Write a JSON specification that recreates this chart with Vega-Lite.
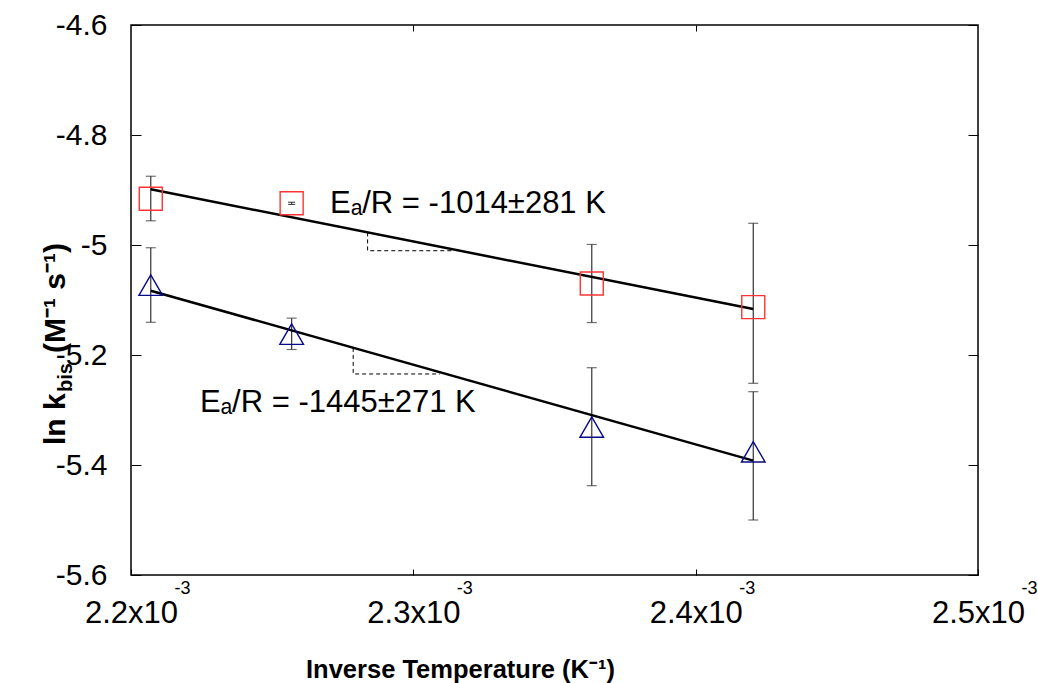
{
  "$schema": "https://vega.github.io/schema/vega-lite/v6.json",
  "width": 847,
  "height": 550,
  "autosize": {"type": "none"},
  "padding": {"left": 131, "top": 25, "right": 60, "bottom": 108},
  "background": "white",
  "config": {
    "view": {"stroke": "black", "strokeWidth": 1.5},
    "axis": {"domain": false, "grid": false, "labelColor": "black", "tickColor": "black", "tickWidth": 1, "labelFont": "Liberation Sans", "labelFlush": false, "labelOverlap": false}
  },
  "datasets": {
    "pts": [
      {"series": "square", "x": 0.002207, "y": -4.916, "lo": -4.956, "hi": -4.875},
      {"series": "square", "x": 0.0023632, "y": -5.07, "lo": -5.141, "hi": -4.999},
      {"series": "square", "x": 0.0024204, "y": -5.113, "lo": -5.2515, "hi": -4.9605},
      {"series": "triangle", "x": 0.002207, "y": -5.073, "lo": -5.1405, "hi": -5.005},
      {"series": "triangle", "x": 0.0022569, "y": -5.162, "lo": -5.19, "hi": -5.133},
      {"series": "triangle", "x": 0.0023632, "y": -5.331, "lo": -5.4376, "hi": -5.2231},
      {"series": "triangle", "x": 0.0024204, "y": -5.376, "lo": -5.5, "hi": -5.2667}
    ],
    "fit": [
      {"series": "square", "x": 0.002207, "y": -4.8987},
      {"series": "square", "x": 0.0024204, "y": -5.1164},
      {"series": "triangle", "x": 0.002207, "y": -5.0831},
      {"series": "triangle", "x": 0.0024204, "y": -5.3921}
    ],
    "slope": [
      {"grp": "a", "ord": 1, "x": 0.0022838, "y": -4.9771},
      {"grp": "a", "ord": 2, "x": 0.0022838, "y": -5.0104},
      {"grp": "a", "ord": 3, "x": 0.0023142, "y": -5.0104},
      {"grp": "b", "ord": 1, "x": 0.0022787, "y": -5.1871},
      {"grp": "b", "ord": 2, "x": 0.0022787, "y": -5.2345},
      {"grp": "b", "ord": 3, "x": 0.0023094, "y": -5.2345}
    ],
    "ann": [
      {"x": 0.0022705, "y": -4.9418, "label": "Eₐ/R = -1014±281 K"},
      {"x": 0.0022244, "y": -5.3031, "label": "Eₐ/R = -1445±271 K"}
    ],
    "key": [
      {"series": "square", "x": 0.0022569, "y": -4.9242}
    ]
  },
  "layer": [
    {
      "data": {"name": "pts"},
      "mark": {"type": "rule", "color": "#333333", "strokeWidth": 1.2},
      "encoding": {
        "x": {"field": "x", "type": "quantitative", "scale": {"domain": [0.0022, 0.0025], "nice": false, "zero": false},
          "axis": {"orient": "bottom", "values": [0.0022, 0.0023, 0.0024, 0.0025], "labelExpr": "format(datum.value*1000,'.1f')+'x10'", "tickSize": -6, "labelFontSize": 31, "labelPadding": 53, "labelBaseline": "alphabetic",
            "title": "Inverse Temperature (K⁻¹)", "titleFont": "Liberation Sans", "titleFontSize": 25.5, "titleFontWeight": "bold", "titleColor": "black", "titleX": 329, "titleY": 102, "titleBaseline": "alphabetic", "titleAlign": "center"}},
        "y": {"field": "lo", "type": "quantitative", "scale": {"domain": [-5.6, -4.6], "nice": false, "zero": false},
          "axis": {"orient": "left", "values": [-5.6, -5.4, -5.2, -5, -4.8, -4.6], "labelExpr": "replace(format(datum.value,'~g'),'−','-')", "tickSize": -10, "labelPadding": 34, "labelFontSize": 30, "title": null}},
        "y2": {"field": "hi"}
      }
    },
    {
      "data": {"name": "pts"},
      "transform": [{"fold": ["lo", "hi"], "as": ["k", "v"]}],
      "mark": {"type": "tick", "orient": "horizontal", "color": "#333333", "size": 10, "thickness": 1.2},
      "encoding": {
        "x": {"field": "x", "type": "quantitative", "axis": null},
        "y": {"field": "v", "type": "quantitative", "axis": null}
      }
    },
    {
      "data": {"name": "fit"},
      "mark": {"type": "line", "color": "black", "strokeWidth": 2.5},
      "encoding": {
        "x": {"field": "x", "type": "quantitative",
          "axis": {"orient": "bottom", "values": [0.0022, 0.0023, 0.0024, 0.0025], "labelExpr": "'-3'", "ticks": false, "labelFontSize": 18, "labelPadding": 18, "labelAlign": "left", "labelOffset": 43, "labelBaseline": "alphabetic", "title": null}},
        "y": {"field": "y", "type": "quantitative",
          "axis": {"orient": "right", "values": [-5.6, -5.4, -5.2, -5, -4.8, -4.6], "labels": false, "tickSize": -10, "title": null}},
        "detail": {"field": "series"}
      }
    },
    {
      "data": {"name": "slope"},
      "mark": {"type": "line", "color": "black", "strokeWidth": 1, "strokeDash": [4, 3]},
      "encoding": {
        "x": {"field": "x", "type": "quantitative",
          "axis": {"orient": "top", "values": [0.0023, 0.0024], "labels": false, "tickSize": -6, "title": null}},
        "y": {"field": "y", "type": "quantitative", "axis": null},
        "detail": {"field": "grp"},
        "order": {"field": "ord"}
      }
    },
    {
      "data": {"name": "pts"},
      "mark": {"type": "point", "filled": false, "strokeWidth": 1.4, "opacity": 1},
      "encoding": {
        "x": {"field": "x", "type": "quantitative", "axis": null},
        "y": {"field": "y", "type": "quantitative", "axis": null},
        "shape": {"field": "series", "type": "nominal", "scale": {"domain": ["square", "triangle"], "range": ["square", "triangle-up"]}, "legend": null},
        "color": {"field": "series", "type": "nominal", "scale": {"domain": ["square", "triangle"], "range": ["#ff3333", "#0a0a8a"]}, "legend": null},
        "size": {"field": "series", "type": "nominal", "scale": {"domain": ["square", "triangle"], "range": [529, 560]}, "legend": null}
      }
    },
    {
      "data": {"name": "key"},
      "mark": {"type": "point", "filled": false, "strokeWidth": 1.4, "opacity": 1, "shape": "square", "size": 529, "color": "#ff3333"},
      "encoding": {
        "x": {"field": "x", "type": "quantitative", "axis": null},
        "y": {"field": "y", "type": "quantitative", "axis": null}
      }
    },
    {
      "data": {"name": "key"},
      "mark": {"type": "point", "filled": false, "strokeWidth": 1, "opacity": 1, "shape": "M-1,-0.3H1M-1,0.3H1M0,-0.3V0.3", "size": 50, "color": "#333333"},
      "encoding": {
        "x": {"field": "x", "type": "quantitative", "axis": null},
        "y": {"field": "y", "type": "quantitative", "axis": null}
      }
    },
    {
      "data": {"name": "ann"},
      "mark": {"type": "text", "align": "left", "baseline": "alphabetic", "fontSize": 31, "font": "Liberation Sans", "color": "black"},
      "encoding": {
        "x": {"field": "x", "type": "quantitative", "axis": null},
        "y": {"field": "y", "type": "quantitative", "axis": null},
        "text": {"field": "label"}
      }
    },
    {
      "data": {"values": [{}]},
      "mark": {"type": "text", "angle": 270, "align": "left", "baseline": "alphabetic", "fontSize": 30, "fontWeight": "bold", "font": "Liberation Sans", "color": "black", "text": "ln k"},
      "encoding": {
        "x": {"datum": 0.0021766, "type": "quantitative", "axis": null},
        "y": {"datum": -5.3636, "type": "quantitative", "axis": null}
      }
    },
    {
      "data": {"values": [{}]},
      "mark": {"type": "text", "angle": 270, "align": "left", "baseline": "alphabetic", "fontSize": 20, "fontWeight": "bold", "font": "Liberation Sans", "color": "black", "text": "bis", "dx": 53, "dy": 7},
      "encoding": {
        "x": {"datum": 0.0021766, "type": "quantitative", "axis": null},
        "y": {"datum": -5.3636, "type": "quantitative", "axis": null}
      }
    },
    {
      "data": {"values": [{}]},
      "mark": {"type": "text", "angle": 270, "align": "left", "baseline": "alphabetic", "fontSize": 30, "fontWeight": "bold", "font": "Liberation Sans", "color": "black", "text": "(M⁻¹ s⁻¹)", "dx": 92},
      "encoding": {
        "x": {"datum": 0.0021766, "type": "quantitative", "axis": null},
        "y": {"datum": -5.3636, "type": "quantitative", "axis": null}
      }
    }
  ],
  "resolve": {"axis": {"x": "independent", "y": "independent"}}
}
